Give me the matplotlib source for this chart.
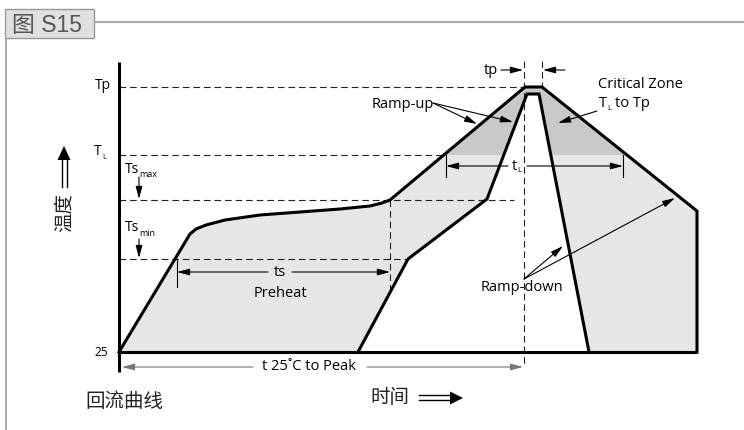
import matplotlib
matplotlib.use('Agg')
import matplotlib.pyplot as plt
from matplotlib.patches import Polygon, Rectangle

# ---------------- data (schematic units: x = time, y = temperature level, drawn top-down) ----
outer_t = [119, 190, 196, 206, 225, 260, 300, 340, 370, 382, 390, 525, 542, 697, 697]
outer_T = [353, 235, 230, 226, 221, 216, 213, 210, 207, 204, 201, 88, 88, 212, 353]
inner_t = [358, 408, 487, 527, 539, 589]
inner_T = [353, 260, 200, 95, 95, 353]

level_labels = ['Tp', 'T', 'Ts', 'Ts', '25']
level_subs = ['', 'L', 'max', 'min', '']
level_vals = [88, 156, 201, 260, 353]
level_dash_end = [524, 444, 514, 408]

t_start = 119
t_end = 697
tp_left, tp_right = 524, 542
ts_left, ts_right = 177, 390
tl_left, tl_right = 446, 623

EN = 'Open Sans'
CJK = ['Noto Sans CJK SC', 'DejaVu Sans']

fig = plt.figure(figsize=(7.44, 4.31), dpi=100)
ax = fig.add_axes([0, 0, 1, 1])
ax.set_xlim(0, 744)
ax.set_ylim(431, 0)
ax.axis('off')

# ---------------- frame / header ----------------
ax.plot([94, 744], [23, 23], color='#aaaaaa', lw=1.6, solid_capstyle='butt')
ax.plot([6, 6], [39, 431], color='#999999', lw=1.2, solid_capstyle='butt')
ax.add_patch(Rectangle((5, 10), 89, 29, fc='#e0e0e0', ec='#999999', lw=1.0))
ax.text(12, 25.5, '图 S15', fontsize=16.5, color='#555555', va='center', ha='left',
        family=['Liberation Sans', 'Noto Sans CJK SC'])

# ---------------- fills ----------------
Tp, TL, Tsmax, Tsmin, T25 = level_vals
verts = list(zip(outer_t, outer_T)) + list(zip(inner_t[::-1], inner_T[::-1]))
poly = Polygon(verts, closed=True, fc='#e6e6e6', ec='none', zorder=1)
ax.add_patch(poly)
dark = Rectangle((0, 0), 744, TL, fc='#c9c9c9', ec='none', zorder=1.1)
ax.add_patch(dark)
dark.set_clip_path(poly)

# ---------------- dashed guide lines ----------------
dash = dict(color='#222222', lw=0.8, ls=(0, (6, 3.5)), zorder=2)
for v, e in zip(level_vals[:4], level_dash_end):
    ax.plot([t_start, e], [v, v], **dash)
ax.plot([tp_left, tp_left], [62, 368], **dash)
ax.plot([tp_right, tp_right], [62, Tp], **dash)
ax.plot([ts_right, ts_right], [Tsmax, 290], **dash)

# ---------------- profile lines ----------------
ax.plot(outer_t, outer_T, color='k', lw=2.2, solid_joinstyle='round', zorder=4)
ax.plot(inner_t, inner_T, color='k', lw=2.2, solid_joinstyle='miter', zorder=4)
ax.plot([t_start, t_start], [63, 373], color='k', lw=2.2, solid_capstyle='butt', zorder=5)
ax.plot([t_start, t_end], [T25, T25], color='k', lw=2.2, solid_capstyle='butt', zorder=5)

# ---------------- level labels ----------------
ax.text(111, 89, 'Tp', fontsize=10, family=EN, ha='right', va='baseline')
ax.text(94, 155, 'T', fontsize=10, family=EN, ha='left', va='baseline')
ax.text(102.5, 159, 'L', fontsize=5.5, family=EN, ha='left', va='baseline')
ax.text(125, 173, 'Ts', fontsize=10, family=EN, ha='left', va='baseline')
ax.text(139, 177, 'max', fontsize=6.5, family=EN, ha='left', va='baseline')
ax.text(125, 231, 'Ts', fontsize=10, family=EN, ha='left', va='baseline')
ax.text(139, 236, 'min', fontsize=6.5, family=EN, ha='left', va='baseline')
ax.text(108, 353, '25', fontsize=8.5, family=EN, ha='right', va='center')


def arrow(x0, y0, x1, y1, color='k', lw=0.8):
    ax.annotate('', xy=(x1, y1), xytext=(x0, y0),
                arrowprops=dict(arrowstyle='-|>,head_length=0.75,head_width=0.2',
                                lw=lw, color=color, shrinkA=0, shrinkB=0,
                                mutation_scale=10), zorder=6)


arrow(139, 178, 139, Tsmax - 1)
arrow(139, 240, 139, Tsmin - 1)

# ts / Preheat
ax.plot([ts_left, ts_left], [Tsmin, 288], color='k', lw=0.8, zorder=6)
arrow(268, 273, ts_left, 273)
arrow(292, 273, ts_right, 273)
ax.text(280, 273, 'ts', fontsize=10.5, family=EN, ha='center', va='center')
ax.text(280, 294, 'Preheat', fontsize=10.5, family=EN, ha='center', va='center')

# tL
ax.plot([tl_left, tl_left], [TL, 178], color='k', lw=0.8, zorder=6)
ax.plot([tl_right, tl_right], [TL, 178], color='k', lw=0.8, zorder=6)
arrow(508, 167, tl_left, 167)
arrow(527, 167, tl_right, 167)
ax.text(512, 170, 't', fontsize=10.5, family=EN, ha='left', va='baseline')
ax.text(517.5, 172, 'L', fontsize=5.5, family=EN, ha='left', va='baseline')

# tp
ax.text(491, 74, 'tp', fontsize=10.5, family=EN, ha='center', va='baseline')
arrow(501, 71, tp_left - 1, 71)
arrow(565, 71, tp_right + 1, 71)

# Critical zone
ax.text(598, 88, 'Critical Zone', fontsize=10.5, family=EN, ha='left', va='baseline')
ax.text(599, 107, 'T', fontsize=10.5, family=EN, ha='left', va='baseline')
ax.text(607.5, 110, 'L', fontsize=5.5, family=EN, ha='left', va='baseline')
ax.text(615, 107, 'to Tp', fontsize=10.5, family=EN, ha='left', va='baseline')
arrow(597, 112, 558, 124)

# Ramp-up
ax.text(403, 105, 'Ramp-up', fontsize=10.5, family=EN, ha='center', va='center')
arrow(433, 104, 477, 125)
arrow(433, 104, 513, 123)

# Ramp-down
ax.text(522, 288, 'Ramp-down', fontsize=10.5, family=EN, ha='center', va='center')
arrow(524, 280, 563, 247)
arrow(524, 280, 675, 199)

# t 25C to peak
arrow(253, 368, 122, 368, color='#777777')
arrow(367, 368, tp_left - 1, 368, color='#777777')
ax.text(309, 367, 't 25˚C to Peak', fontsize=10.5, family=EN, ha='center', va='center')

# ---------------- Chinese labels & double arrows ----------------
ax.text(124, 402, '回流曲线', fontsize=14, family=CJK, ha='center', va='center', color='#222222')
ax.text(390, 398, '时间', fontsize=14, family=CJK, ha='center', va='center', color='#222222')
ax.text(64, 213, '温度', fontsize=14, family=CJK, ha='center', va='center', rotation=90,
        color='#222222')

# up double arrow
ax.plot([61.5, 61.5], [188, 159], color='k', lw=1.0)
ax.plot([66.5, 66.5], [188, 159], color='k', lw=1.0)
ax.add_patch(Polygon([(57.5, 161), (70.5, 161), (64, 147)], closed=True, fc='k', ec='none'))
# right double arrow
ax.plot([419, 452], [396.5, 396.5], color='k', lw=1.0)
ax.plot([419, 452], [401.5, 401.5], color='k', lw=1.0)
ax.add_patch(Polygon([(450, 392.5), (450, 405.5), (463, 399)], closed=True, fc='k', ec='none'))

fig.savefig('out.png', dpi=100)
